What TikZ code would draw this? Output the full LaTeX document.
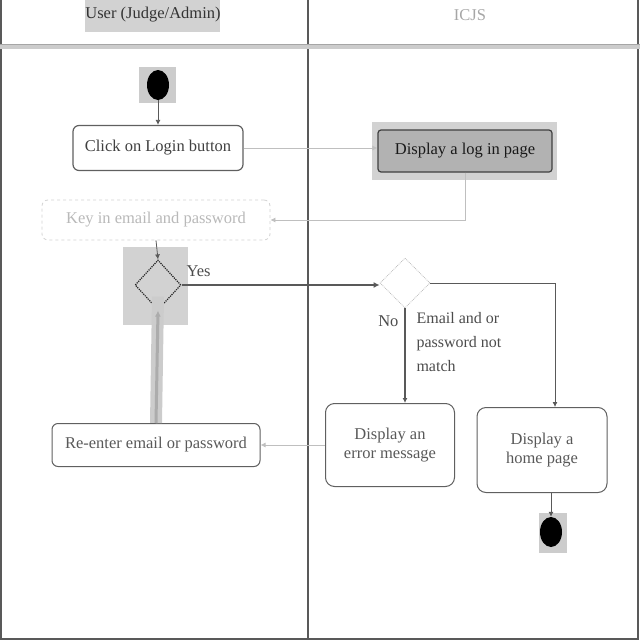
\documentclass[tikz,border=0pt]{standalone}
\usepackage{fontspec}
\setmainfont{Liberation Serif}
\usetikzlibrary{shapes.geometric,arrows.meta}
\begin{document}
\begin{tikzpicture}[x=1pt,y=-1pt,
  txt/.style={font=\fontsize{16.5}{19}\selectfont},
  act/.style={txt,draw=gray!75!black,line width=1.2pt,rounded corners=6pt,fill=white,align=center,inner sep=2pt},
  arr/.style={-{Latex[length=5pt,width=5pt]},draw=gray!70!black,line width=0.8pt},
  lightarr/.style={-{Latex[length=5pt,width=5pt]},draw=gray!50,line width=0.8pt},
  dot/.style={ellipse,fill=black,minimum width=22pt,minimum height=30pt,inner sep=0pt}]
\useasboundingbox (0,0) rectangle (640,640);
% frame and lanes
\draw[gray!70!black,line width=1.2pt] (1,0) -- (1,639) -- (638,639) -- (638,0);
\draw[gray!70!black,line width=1.2pt] (308,0) -- (308,639);
\draw[gray!40,line width=4pt] (0,47) -- (640,47);
\draw[gray!70,line width=0.8pt] (0,44) -- (640,44);
% header
\fill[gray!35] (85,0) rectangle (220,32);
\node[txt,text=black!80] (hu) at (153,15) {User (Judge/Admin)};
\node[txt,text=gray!70] (hi) at (470,15) {ICJS};
% start
\fill[gray!40] (139,67) rectangle (176,103);
\node[dot] (start) at (158,85) {};
% activities
\node[act,minimum width=170pt,minimum height=45pt,text=black!75] (click) at (158,148) {Click on Login button};
\fill[gray!35] (372,122) rectangle (557,180);
\node[act,minimum width=174pt,minimum height=42pt,fill=gray!60,draw=black!75,text=black!90,rounded corners=3pt] (login) at (465,151) {Display a log in page};
\node[act,minimum width=228pt,minimum height=40pt,draw=gray!35,dashed,line width=0.8pt,text=gray!55] (key) at (156,220) {Key in email and password};
\fill[gray!35] (123,247) rectangle (188,325);
\node[diamond,draw=black!85,densely dotted,line width=1.2pt,minimum width=46pt,minimum height=50pt,inner sep=0pt] (d1) at (158,285) {};
\node[diamond,draw=gray!55,densely dotted,line width=0.8pt,fill=white,minimum width=50pt,minimum height=50pt,inner sep=0pt] (d2) at (405,283) {};
\node[act,minimum width=129pt,minimum height=83pt,text=gray!70!black,rounded corners=9pt,line width=1pt] (err) at (390,445) {Display an\\error message};
\node[act,minimum width=130pt,minimum height=85pt,text=gray!70!black,rounded corners=9pt,line width=1pt] (home) at (542,450) {Display a\\home page};
\node[act,minimum width=208pt,minimum height=43pt,text=gray!70!black,line width=1pt] (re) at (156,445) {Re-enter email or password};
\fill[gray!40] (539,513) rectangle (567,553);
\node[dot] (end) at (551,532) {};
% connectors
\draw[arr] (start) -- (click);
\draw[lightarr] (click.east) -- (click.east -| login.west);
\draw[lightarr] (login.south) |- (key.east);
\draw[arr] (key.south) -- (d1.north);
\draw[gray!70!black,line width=2.4pt,-{Latex[length=6pt,width=6pt]}] (d1.east) -- (d1.east -| d2.west);
\node[txt,text=gray!60!black,anchor=west] (yes) at (183,271) {Yes};
\draw[gray!40,line width=12pt] (re.north) -- ([yshift=14pt]d1.south);
\draw[gray!65,line width=3pt,-{Latex[length=6pt,width=6pt]}] (re.north) -- (d1.south);
\draw[gray!70!black,line width=1.2pt,-{Latex[length=5pt,width=5pt]}] (d2.south) -- (d2.south |- err.north);
\draw[arr] (d2.east) -| (home.north -| 555,0);
\node[txt,text=gray!60!black,anchor=east] (no) at (402,321) {No};
\node[txt,text=gray!60!black,align=left,anchor=north west,font=\fontsize{16}{24}\selectfont] (cond) at (413,309) {Email and or\\password not\\match};
\draw[lightarr] (err.west) -- (re.east);
\draw[arr] (home.south -| end) -- (end);
\end{tikzpicture}
\end{document}
